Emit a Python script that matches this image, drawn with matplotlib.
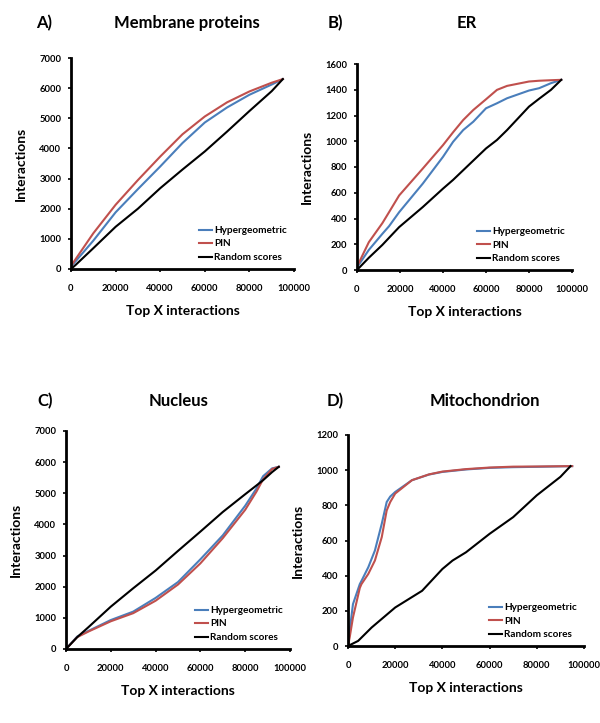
import matplotlib
matplotlib.use("Agg")
import matplotlib.pyplot as plt

plt.rcParams['font.family'] = ['Lato', 'DejaVu Sans']
plt.rcParams['font.weight'] = 'bold'

BLUE = '#4a7ebb'
RED = '#c0504d'

# ---- A) Membrane proteins ----
mem_x = [0, 2000, 10000, 20000, 30000, 40000, 50000, 60000, 70000, 80000, 90000, 95000]
mem_hyper = [80, 250, 940, 1880, 2650, 3400, 4180, 4860, 5360, 5780, 6120, 6300]
mem_pin = [100, 320, 1185, 2130, 2950, 3730, 4470, 5060, 5530, 5890, 6180, 6300]
mem_rand = [0, 130, 690, 1400, 2000, 2680, 3300, 3900, 4560, 5240, 5900, 6300]

# ---- B) ER ----
er_x = [0, 5500, 11800, 14900, 19600, 30600, 40000, 44700, 49400, 54100, 60000, 65100,
        69800, 80000, 84700, 90200, 95000]
er_hyper = [20, 156, 281, 340, 449, 671, 879, 996, 1087, 1152, 1256, 1295, 1334, 1394,
            1412, 1451, 1477]
er_pin = [26, 216, 364, 449, 579, 788, 970, 1070, 1165, 1243, 1326, 1399, 1430, 1464,
          1470, 1474, 1477]
er_rand = [0, 95, 195, 250, 333, 489, 632, 700, 775, 850, 944, 1010, 1087, 1269, 1330,
           1399, 1477]

# ---- C) Nucleus ----
nuc_x = [0, 5000, 10000, 20000, 30000, 40000, 50000, 60000, 70000, 80000, 85000, 88000, 92000, 95000]
nuc_hyper = [0, 400, 580, 930, 1200, 1640, 2150, 2880, 3650, 4600, 5150, 5550, 5800, 5850]
nuc_pin = [0, 380, 560, 890, 1150, 1550, 2070, 2750, 3560, 4470, 5050, 5450, 5780, 5850]
nuc_rand = [0, 380, 700, 1360, 1950, 2520, 3150, 3770, 4400, 4970, 5250, 5420, 5680, 5850]

# ---- D) Mitochondrion ----
mit_x = [0, 700, 2100, 5000, 5700, 8600, 11400, 14300, 16400, 17900, 20000, 27100,
         34300, 40000, 50000, 60000, 70000, 80000, 95000]
mit_hyper = [0, 86, 238, 352, 370, 448, 543, 695, 819, 850, 876, 943, 975, 990, 1004,
             1013, 1017, 1019, 1023]
mit_pin = [0, 48, 162, 330, 352, 410, 486, 619, 771, 819, 867, 943, 976, 992, 1006,
           1015, 1020, 1021, 1023]
mit_rand_x = [0, 4300, 10000, 20000, 31400, 40000, 44300, 50000, 60000, 70000, 80000,
              90000, 94300]
mit_rand = [0, 29, 105, 219, 314, 438, 486, 533, 638, 733, 857, 962, 1023]

# letter, title, x, series, y max, y step, axes rect in pixels (left, top, right, bottom),
# title row y, letter x, title centre x (pixels)
panels = [
    ('A)', 'Membrane proteins', mem_x, mem_hyper, mem_pin, mem_x, mem_rand, 7000, 1000,
     (71, 58, 294, 269), 23, 36, 187),
    ('B)', 'ER', er_x, er_hyper, er_pin, er_x, er_rand, 1600, 200,
     (357, 64, 572, 270), 23, 328, 467),
    ('C)', 'Nucleus', nuc_x, nuc_hyper, nuc_pin, nuc_x, nuc_rand, 7000, 1000,
     (66, 431, 290, 649), 401, 37, 179),
    ('D)', 'Mitochondrion', mit_x, mit_hyper, mit_pin, mit_rand_x, mit_rand, 1200, 200,
     (348, 435, 584, 646), 401, 327, 485),
]

W, H = 600, 723
fig = plt.figure(figsize=(W / 100, H / 100), dpi=100)

for letter, title, x, hyp, pin, rx, rnd, ymax, ystep, box, ty, lx, tx in panels:
    l, t, r, b = box
    ax = fig.add_axes([l / W, 1 - b / H, (r - l) / W, (b - t) / H])
    ax.plot(x, hyp, color=BLUE, lw=1.5, label='Hypergeometric')
    ax.plot(x, pin, color=RED, lw=1.5, label='PIN')
    ax.plot(rx, rnd, color='black', lw=1.5, label='Random scores')
    ax.set_xlim(0, 100000)
    ax.set_ylim(0, ymax)
    ax.set_xticks(range(0, 100001, 20000))
    ax.set_yticks(range(0, ymax + 1, ystep))
    for s in ['top', 'right']:
        ax.spines[s].set_visible(False)
    for s in ['left', 'bottom']:
        ax.spines[s].set_linewidth(2)
    ax.tick_params(labelsize=6.8, width=1.2, length=2.5)
    ax.tick_params(axis='x', pad=8)
    ax.tick_params(axis='y', pad=4.5)
    for lab in ax.get_xticklabels() + ax.get_yticklabels():
        lab.set_fontweight('bold')
    ax.set_xlabel('Top X interactions', fontsize=10, fontweight='bold', labelpad=9)
    ax.set_ylabel('Interactions', fontsize=10, fontweight='bold', labelpad=9)
    ax.legend(loc='lower right', frameon=False, handlelength=1.35,
              handletextpad=0.2, labelspacing=0.45, borderaxespad=0.3,
              prop={'weight': 'bold', 'size': 7.2})
    fig.text(lx / W, 1 - ty / H, letter, fontsize=12, fontweight='bold',
             ha='left', va='center')
    fig.text(tx / W, 1 - ty / H, title, fontsize=12, fontweight='bold',
             ha='center', va='center')

fig.savefig('out.png', dpi=100)
